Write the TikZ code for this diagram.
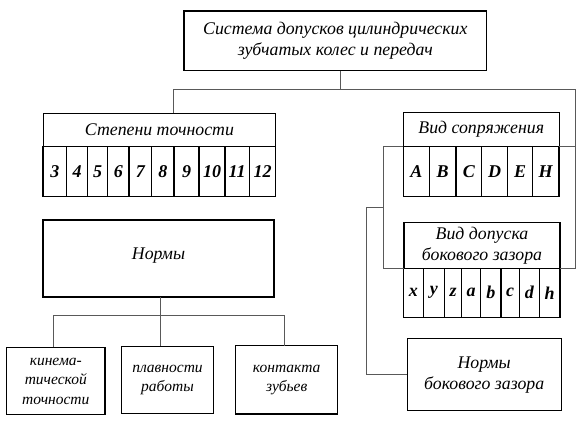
\documentclass[tikz,border=0pt]{standalone}
\usepackage{fontspec}
\setmainfont{Liberation Serif}
\usepackage{tikz}

\begin{document}
\begin{tikzpicture}[x=1pt, y=-1pt,
    box/.style={draw, line width=1.1pt, inner sep=0pt, outer sep=0pt, align=center,
      font=\itshape\fontsize{17.8}{21}\selectfont},
    cell/.style={box, font=\bfseries\itshape\fontsize{18}{20}\selectfont},
    small/.style={box, font=\itshape\fontsize{15.5}{19.5}\selectfont},
    link/.style={draw=black!65, line width=0.9pt}]
        \useasboundingbox (0,0) rectangle (584,432);
        % top
        \node[box, minimum width=302.7pt, minimum height=59.7pt] (sys) at (335.3,40.8)
          {Система допусков цилиндрических\\зубчатых колес и передач};
        % degrees of accuracy
        \node[box, minimum width=232.7pt, minimum height=32.7pt] (stp) at (159.4,129.7) {Степени точности};
        \foreach \a/\b/\t [count=\i] in {43/66.7/3, 66.7/87.3/4, 87.3/107.7/5, 107.7/129/6, 129/151.7/7,
            151.7/174/8, 174/199/9, 199/225/10, 225/249.3/11, 249.3/275.7/12}
          \node[cell, minimum width={(\b-\a)*1pt}, minimum height=50.7pt] (st\i) at ({(\a+\b)/2},171.4) {\t};
        % norms
        \node[box, minimum width=231pt, minimum height=77pt] (nrm) at (158.5,258.5) {\raisebox{9pt}{Нормы}};
        \node[small, minimum width=98.3pt, minimum height=67.4pt] (kin) at (55.8,381)
          {кинема-\\тической\\точности};
        \node[small, minimum width=91.6pt, minimum height=67pt] (pl) at (167.5,379.8)
          {плавности\\работы};
        \node[small, minimum width=102pt, minimum height=68.3pt] (kon) at (286.7,379.8)
          {контакта\\зубьев};
        % fit type
        \node[box, minimum width=155.7pt, minimum height=33.8pt] (vsh) at (481.2,129.6) {Вид сопряжения};
        \foreach \a/\b/\t [count=\i] in {403.3/429.3/A, 429.3/456/B, 456/481.7/C, 481.7/507.7/D,
            507.7/532.3/E, 532.3/559/H}
          \node[cell, minimum width={(\b-\a)*1pt}, minimum height=50.2pt] (vs\i) at ({(\a+\b)/2},171.6) {\t};
        % backlash tolerance type
        \node[box, minimum width=156pt, minimum height=46pt] (vdh) at (482,245.3)
          {Вид допуска\\бокового зазора};
        \foreach \a/\b/\t [count=\i] in {403.3/423.3/x, 423.3/444.3/y, 444.3/461.7/z, 461.7/480.7/a,
            480.7/501/b, 501/519.3/c, 519.3/539.3/d, 539.3/560/h}
          \node[cell, minimum width={(\b-\a)*1pt}, minimum height=49pt] (vd\i) at ({(\a+\b)/2},292.8) {\t};
        \node[box, minimum width=153.7pt, minimum height=72pt] (nbz) at (484.2,374.7)
          {Нормы\\бокового зазора};
        % connectors
        \coordinate (top) at (340.7,89.5);
        \coordinate (tl) at (173.7,89.5);
        \coordinate (tr) at (575.7,89.5);
        \coordinate (bl) at (383.3,207.3);
        \coordinate (nb) at (366,207.3);
        \draw[link] (sys.south -| top) -- (top);
        \draw[link] (stp.north -| tl) -- (tl) -- (tr) -- (tr |- vdh.south east) -- (vdh.south east);
        \draw[link] (vsh.south east) -- (vsh.south east -| tr);
        \draw[link] (vsh.south west) -- (vsh.south west -| bl) -- (vdh.south west -| bl) -- (vdh.south west);
        \draw[link] (bl) -- (nb) -- (nb |- nbz.west) -- (nbz.west);
        \coordinate (nj) at (160.7,315.3);
        \coordinate (kj) at (53.3,315.3);
        \coordinate (cj) at (284.3,315.3);
        \draw[link] (nrm.south -| nj) -- (pl.north -| nj);
        \draw[link] (kin.north -| kj) -- (kj) -- (cj) -- (kon.north -| cj);
\end{tikzpicture}
\end{document}
